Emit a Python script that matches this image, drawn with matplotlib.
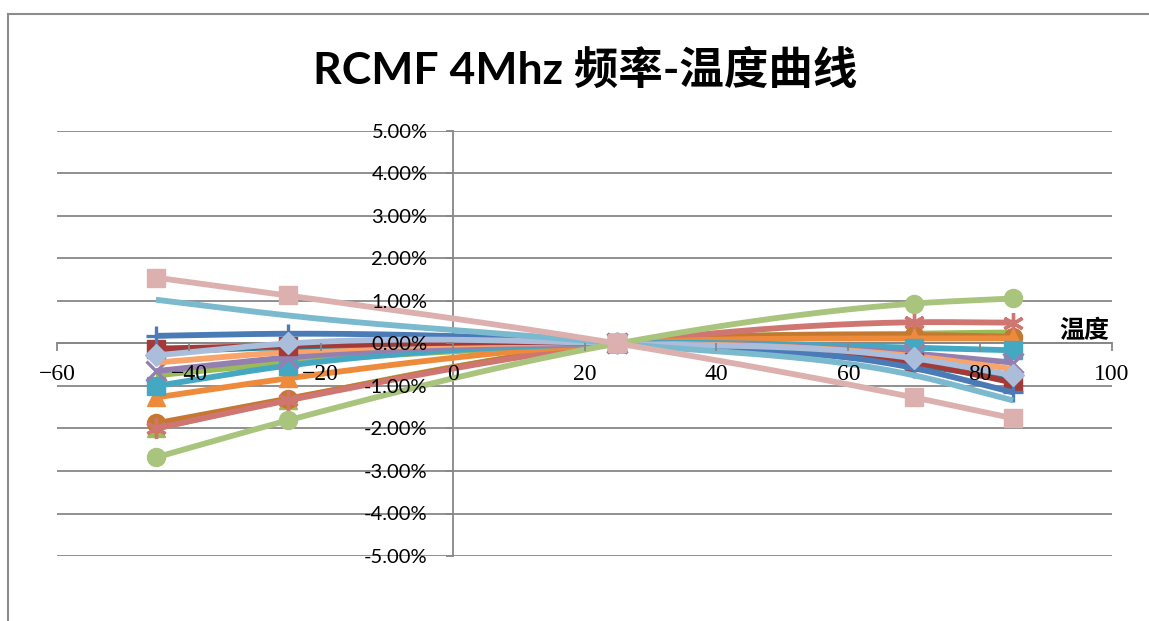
import numpy as np
import matplotlib
matplotlib.use("Agg")
import matplotlib.pyplot as plt
import matplotlib.ticker as ticker
from matplotlib.lines import Line2D

plt.rcParams['font.family'] = ['Lato', 'Noto Sans CJK SC', 'DejaVu Sans']

# 测试温度点 (℃)
temps = [-45, -25, 25, 70, 85]

# 各芯片频率偏差 (%), 以25℃为基准
blue_plus = [0.18, 0.23, 0.0, -0.58, -1.15]
darkred_sq = [-0.12, -0.05, 0.0, -0.44, -0.92]
teal_line = [-0.20, -0.08, 0.0, -0.50, -0.85]
ltblue_dia = [-0.28, 0.00, 0.0, -0.35, -0.75]
ltorange_line = [-0.45, -0.20, 0.0, -0.30, -0.60]
purple_x = [-0.65, -0.33, 0.0, -0.24, -0.45]
olive_line = [-0.75, -0.45, 0.0, 0.23, 0.26]
aqua_sq = [-1.00, -0.52, 0.0, -0.10, -0.16]
orange_tri = [-1.27, -0.82, 0.0, 0.12, 0.12]
green_tri = [-2.00, -1.32, 0.0, 0.22, 0.20]
brown_circ = [-1.88, -1.30, 0.0, 0.20, 0.16]
rose_star = [-2.00, -1.34, 0.0, 0.50, 0.49]
ltgreen_circ = [-2.68, -1.81, 0.0, 0.94, 1.06]
ltaqua_line = [1.03, 0.66, 0.0, -0.75, -1.34]
pink_sq = [1.55, 1.13, 0.0, -1.27, -1.76]

series = [
    (olive_line, '#9BBB59', None),
    (green_tri, '#9BBB59', '^'),
    (brown_circ, '#C5782F', 'o'),
    (rose_star, '#D07672', (6, 2, 0)),
    (orange_tri, '#EE8A3C', '^'),
    (aqua_sq, '#45A8C2', 's'),
    (purple_x, '#9480B0', 'x'),
    (ltorange_line, '#F8A46A', None),
    (teal_line, '#2E8095', None),
    (darkred_sq, '#A33A37', 's'),
    (blue_plus, '#4A7BB7', '+'),
    (ltblue_dia, '#AABDDB', 'D'),
    (ltaqua_line, '#7AB9CE', None),
    (ltgreen_circ, '#A9C47C', 'o'),
    (pink_sq, '#DDB0B0', 's'),
]


def smooth(xs, ys, n=60):
    # 三次 Hermite 插值平滑, 斜率取相邻割线的加权平均
    xs = np.asarray(xs, float)
    ys = np.asarray(ys, float)
    h = np.diff(xs)
    d = np.diff(ys) / h
    m = np.empty_like(ys)
    m[0], m[-1] = d[0], d[-1]
    for i in range(1, len(xs) - 1):
        m[i] = (d[i - 1] * h[i] + d[i] * h[i - 1]) / (h[i - 1] + h[i])
    px, py = [], []
    for i in range(len(xs) - 1):
        t = np.linspace(0, 1, n)
        h00 = 2 * t ** 3 - 3 * t ** 2 + 1
        h10 = t ** 3 - 2 * t ** 2 + t
        h01 = -2 * t ** 3 + 3 * t ** 2
        h11 = t ** 3 - t ** 2
        yy = h00 * ys[i] + h10 * h[i] * m[i] + h01 * ys[i + 1] + h11 * h[i] * m[i + 1]
        xx = xs[i] + t * h[i]
        if i > 0:
            xx, yy = xx[1:], yy[1:]
        px.append(xx)
        py.append(yy)
    return np.concatenate(px), np.concatenate(py)


W, H = 1149, 621
fig = plt.figure(figsize=(W / 100, H / 100), dpi=100)
ax = fig.add_axes([57 / W, 1 - 556 / H, (1112 - 57) / W, (556 - 131) / H])

ax.set_xlim(-60, 100)
ax.set_ylim(-5, 5)

grid_c = '#878787'
for yv in np.arange(-5, 6, 1):
    ax.axhline(yv, color=grid_c, lw=1.3, zorder=0)

for sp in ['top', 'right']:
    ax.spines[sp].set_visible(False)
ax.spines['left'].set_position(('data', 0))
ax.spines['bottom'].set_position(('data', 0))
for sp in ['left', 'bottom']:
    ax.spines[sp].set_color(grid_c)
    ax.spines[sp].set_linewidth(1.3)
    ax.spines[sp].set_zorder(1)

ax.set_yticks(np.arange(-5, 6, 1))
ax.set_xticks(np.arange(-60, 101, 20))
ax.yaxis.set_major_formatter(ticker.FuncFormatter(lambda v, p: f'{v:.2f}%'))
ax.xaxis.set_major_formatter(ticker.FuncFormatter(lambda v, p: f'{v:g}'.replace('-', '\u2212')))
ax.tick_params(axis='y', direction='out', length=5, width=1.3, color=grid_c, pad=13,
               labelsize=14.5, labelcolor='black')
ax.tick_params(axis='x', direction='out', length=6, width=1.3, color=grid_c, pad=9,
               labelsize=17, labelcolor='black')
for lb in ax.get_xticklabels():
    lb.set_family('Liberation Serif')
# 刻度文字压在曲线之上
ax.xaxis.set_zorder(10)
ax.yaxis.set_zorder(10)

for i, (vals, col, mk) in enumerate(series):
    sx, sy = smooth(temps, vals)
    ax.plot(sx, sy, color=col, lw=4.2, solid_capstyle='butt', zorder=2 + i * 0.1)
    if mk is not None:
        if mk in ('+', 'x') or isinstance(mk, tuple):
            ax.plot(temps, vals, ls='none', marker=mk, ms=15, mew=2.4, color=col, zorder=2.05 + i * 0.1)
        else:
            ms = 11.5 if mk == 'D' else 13
            ax.plot(temps, vals, ls='none', marker=mk, ms=ms, mfc=col, mec=col, zorder=2.05 + i * 0.1)

ax.text(95.8, 0.0, '温度', ha='center', va='bottom', fontsize=18, fontweight='bold',
        family=['Noto Sans CJK SC'])

fig.text(585 / W, 1 - 70 / H, 'RCMF 4Mhz 频率-温度曲线', ha='center', va='center',
         fontsize=32, fontweight='bold', family=['Lato', 'Noto Sans CJK SC'])

# 图表区外框
fig.add_artist(Line2D([8 / W, 8 / W], [0, 1 - 14 / H], color='#8C8C8C', lw=1.5))
fig.add_artist(Line2D([8 / W, 1], [1 - 14 / H, 1 - 14 / H], color='#8C8C8C', lw=1.5))

fig.savefig('out.png', dpi=100)
